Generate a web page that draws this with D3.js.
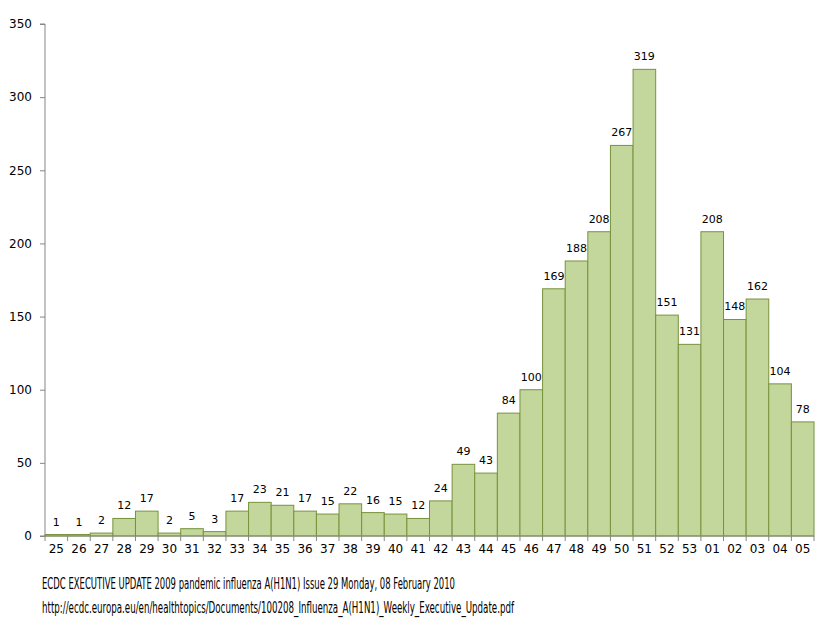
<!DOCTYPE html>
<html>
<head>
<meta charset="utf-8">
<script src="https://cdn.jsdelivr.net/npm/d3@7"></script>
<style>
  body { margin: 0; background: #fff; }
  .axis text { font-family: "DejaVu Sans", Verdana, sans-serif; font-size: 12px; fill: #000; }
  .axis path, .axis line { stroke: #868686; }
  .val { font-family: "DejaVu Sans", Verdana, sans-serif; font-size: 11px; fill: #000; }
  .note { font-family: "Liberation Sans Narrow", "DejaVu Sans Condensed", sans-serif; font-size: 16px; fill: #000; }
</style>
</head>
<body>
<svg id="chart" width="824" height="625"></svg>
<script>
var weeks = ["25","26","27","28","29","30","31","32","33","34","35","36","37","38","39","40","41","42","43","44","45","46","47","48","49","50","51","52","53","01","02","03","04","05"]
var cases = [1,1,2,12,17,2,5,3,17,23,21,17,15,22,16,15,12,24,49,43,84,100,169,188,208,267,319,151,131,208,148,162,104,78]
var yTicks = [0,50,100,150,200,250,300,350]
var notes = [
  "ECDC EXECUTIVE UPDATE 2009 pandemic influenza A(H1N1) Issue 29 Monday, 08 February 2010",
  "http://ecdc.europa.eu/en/healthtopics/Documents/100208_Influenza_A(H1N1)_Weekly_Executive_Update.pdf"
]

function drawChart(){
  var svg = d3.select("#chart")
    , plotLeft = 45
    , plotRight = 814
    , plotTop = 24
    , plotBottom = 536

  var x = d3.scaleBand().domain(weeks).range([plotLeft, plotRight]).padding(0)
  var y = d3.scaleLinear().domain([0, 350]).range([plotBottom, plotTop])

  // bars
  svg.append("g").selectAll("rect")
      .data(cases)
    .enter().append("rect")
      .attr("x", function(d, i){ return x(weeks[i]) })
      .attr("y", function(d){ return y(d) })
      .attr("width", x.bandwidth())
      .attr("height", function(d){ return y(0) - y(d) })
      .style("fill", "#c3d69b")
      .style("stroke", "#77933c")
      .style("stroke-width", 1)

  // value labels
  svg.append("g").selectAll("text")
      .data(cases)
    .enter().append("text")
      .attr("class", "val")
      .attr("x", function(d, i){ return x(weeks[i]) + x.bandwidth()/2 })
      .attr("y", function(d){ return y(d) - 9 })
      .attr("text-anchor", "middle")
      .text(function(d){ return d })

  // y axis
  var yAxis = d3.axisLeft(y).tickValues(yTicks).tickSize(5).tickPadding(8)
  svg.append("g")
    .attr("class", "axis")
    .attr("transform", "translate(" + plotLeft + ",0)")
    .call(yAxis)
    .call(function(g){ g.select(".domain").attr("d", "M-5," + plotTop + "H0V" + plotBottom) })

  // x axis: ticks between bars
  var xg = svg.append("g")
    .attr("class", "axis")
    .attr("transform", "translate(0," + plotBottom + ")")
  xg.append("line").attr("x1", plotLeft - 5).attr("x2", plotRight).attr("y1", 0).attr("y2", 0)
  xg.selectAll(".tk")
      .data(weeks.concat(["end"]))
    .enter().append("line")
      .attr("class", "tk")
      .attr("x1", function(d, i){ return plotLeft + i * x.step() })
      .attr("x2", function(d, i){ return plotLeft + i * x.step() })
      .attr("y1", 0).attr("y2", 5)
  xg.selectAll("text")
      .data(weeks)
    .enter().append("text")
      .attr("x", function(d){ return x(d) + x.bandwidth()/2 })
      .attr("y", 17)
      .attr("text-anchor", "middle")
      .text(function(d){ return d })

  // source notes
  svg.selectAll(".note")
      .data(notes)
    .enter().append("text")
      .attr("class", "note")
      .attr("x", 42)
      .attr("y", function(d, i){ return 589 + i * 24 })
      .attr("textLength", function(d, i){ return i == 0 ? 413 : 472 })
      .attr("lengthAdjust", "spacingAndGlyphs")
      .text(function(d){ return d })
}
drawChart()
</script>
</body>
</html>
